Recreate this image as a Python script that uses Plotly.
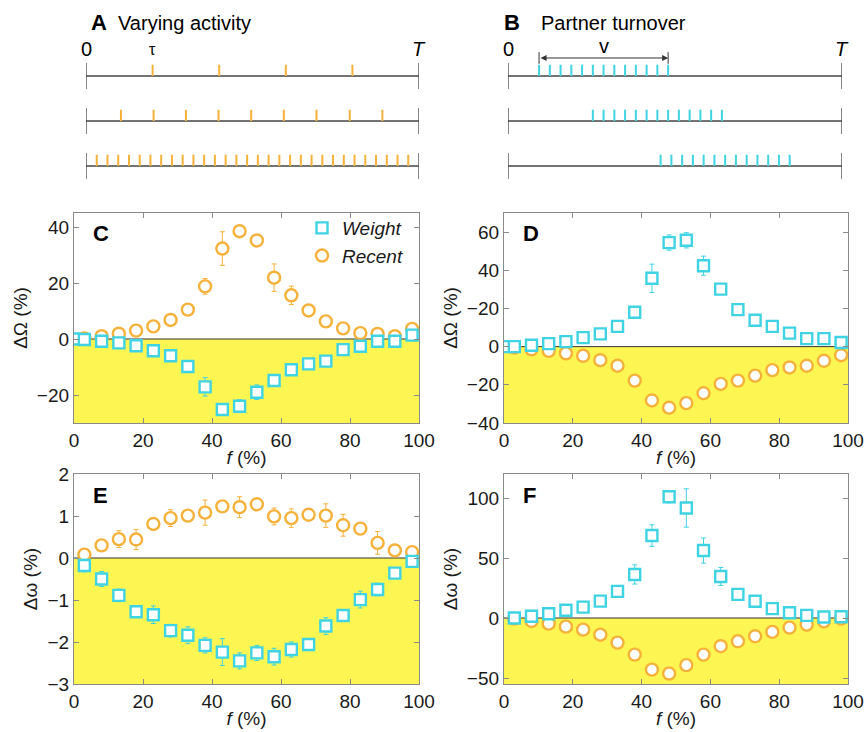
import plotly.graph_objects as go

W, H = 865, 732
FONT = "Liberation Sans, Arial, sans-serif"
CYAN = "#3fd3e3"
ORANGE = "#f6b13a"
YELLOW = "#fdf652"
FRAME = "#8a8a8a"

# ---------------- data ----------------
f_pts = [3, 8, 13, 18, 23, 28, 33, 38, 43, 48, 53, 58, 63, 68, 73, 78, 83, 88, 93, 98]
f_pts_w0 = [0] + f_pts

C_weight = [0, -0.2, -0.8, -1.4, -2.4, -4.2, -6.0, -9.8, -17.1, -25.2, -24.0, -19.0, -14.8, -11.0, -8.9, -7.9, -3.8, -2.6, -0.8, -0.8, 1.4]
C_weight_err = [0.3, 0.3, 0.4, 0.5, 0.5, 0.6, 0.7, 0.8, 3.3, 1.2, 2.3, 2.6, 1.2, 1.0, 0.8, 0.8, 0.6, 0.5, 0.5, 0.4, 0.4]
C_recent = [0.2, 1.0, 1.9, 3.0, 4.5, 6.8, 10.5, 18.8, 32.3, 38.5, 35.2, 21.9, 15.6, 10.2, 6.3, 3.8, 2.1, 1.8, 1.0, 3.6]
C_recent_err = [0.3, 0.4, 0.5, 0.5, 0.6, 0.8, 1.0, 2.8, 6.0, 1.2, 1.5, 4.9, 3.3, 1.0, 0.8, 0.6, 0.5, 0.5, 0.4, 0.5]

D_weight = [0, 0, 0.7, 1.6, 2.6, 4.7, 6.7, 10.6, 18.0, 35.8, 54.5, 55.7, 42.4, 30.1, 19.4, 13.8, 10.6, 7.1, 4.2, 4.2, 2.2]
D_weight_err = [0.3, 0.3, 0.4, 0.5, 0.6, 0.7, 0.9, 1.2, 3.0, 7.4, 4.0, 4.0, 5.0, 1.8, 1.2, 1.0, 0.9, 0.7, 0.6, 0.6, 0.5]
D_recent = [-0.5, -1.4, -2.2, -3.5, -4.8, -7.1, -10.0, -17.8, -28.2, -32.0, -29.6, -24.4, -19.5, -17.8, -15.2, -12.3, -10.9, -10.0, -7.4, -4.5]
D_recent_err = [0.3, 0.4, 0.5, 0.5, 0.6, 0.7, 0.8, 1.0, 1.2, 1.2, 1.2, 1.0, 0.9, 0.8, 0.8, 0.7, 0.7, 0.6, 0.6, 0.5]

E_weight = [-0.18, -0.5, -0.89, -1.28, -1.35, -1.73, -1.84, -2.08, -2.24, -2.45, -2.26, -2.35, -2.18, -2.06, -1.62, -1.37, -0.99, -0.75, -0.36, -0.08]
E_weight_err = [0.15, 0.18, 0.15, 0.1, 0.21, 0.15, 0.2, 0.18, 0.32, 0.19, 0.18, 0.2, 0.18, 0.12, 0.2, 0.12, 0.2, 0.15, 0.1, 0.1]
E_recent = [0.08, 0.3, 0.45, 0.44, 0.81, 0.95, 1.01, 1.08, 1.23, 1.21, 1.28, 0.99, 0.95, 1.03, 1.01, 0.78, 0.7, 0.36, 0.18, 0.14]
E_recent_err = [0.08, 0.1, 0.2, 0.24, 0.1, 0.2, 0.12, 0.3, 0.12, 0.25, 0.1, 0.2, 0.22, 0.12, 0.28, 0.26, 0.12, 0.27, 0.1, 0.1]

F_weight = [0, 1.4, 3.6, 6.4, 9.1, 14.1, 22.2, 36.3, 68.7, 101, 91.7, 56.2, 34.6, 19.7, 13.9, 7.8, 4.4, 2.2, 0.8, 1.1]
F_weight_err = [0.5, 0.8, 1, 1.2, 1.5, 2, 2.5, 8, 9, 5, 16, 10.5, 7.5, 2.5, 2, 1.5, 1, 0.8, 0.6, 0.5]
F_recent = [-0.5, -2.5, -4.7, -7.2, -9.7, -13.9, -20.5, -30.5, -43, -46.3, -39.3, -30.5, -23.5, -19.4, -15.2, -11.6, -8, -5.5, -2.8, -0.5]
F_recent_err = [0.4, 0.5, 0.6, 0.7, 0.8, 1.0, 1.2, 1.5, 1.8, 1.8, 1.8, 1.5, 1.2, 1.0, 0.9, 0.8, 0.7, 0.6, 0.5, 0.4]

x_ticks = [0, 20, 40, 60, 80, 100]
C_yticks = [-20, 0, 20, 40]
D_yticks = [-40, -20, 0, 20, 40, 60]
D_yticklabels = ["\u221240", "\u221220", "0", "\u221220", "40", "60"]
E_yticks = [-3, -2, -1, 0, 1, 2]
F_yticks = [-50, 0, 50, 100]

# event times (fraction of T) for the schematic timelines
A_rows = [
    [0.2, 0.4, 0.6, 0.8],
    [0.105, 0.203, 0.3, 0.398, 0.496, 0.594, 0.692, 0.792, 0.89],
    [i / 31 for i in range(1, 31)],
]
B_rows = [
    [0.093 + i * 0.0322 for i in range(13)],
    [0.254 + i * 0.0322 for i in range(13)],
    [0.457 + i * 0.0322 for i in range(13)],
]

# ---------------- layout helpers (page pixels -> paper) ----------------
def px(x):
    return x / W

def py(y):
    return 1 - y / H

fig = go.Figure()

panels = [
    ("C", "x", "y", (74, 419), (213, 423), [-30, 45], C_yticks, None, "\u0394\u03a9 (%)",
     f_pts_w0, C_weight, C_weight_err, f_pts, C_recent, C_recent_err),
    ("D", "x2", "y2", (504, 848), (213, 423), [-40, 70], D_yticks, D_yticklabels, "\u0394\u03a9 (%)",
     f_pts_w0, D_weight, D_weight_err, f_pts, D_recent, D_recent_err),
    ("E", "x3", "y3", (74, 419), (474, 684), [-3, 2], E_yticks, None, "\u0394\u03c9 (%)",
     f_pts, E_weight, E_weight_err, f_pts, E_recent, E_recent_err),
    ("F", "x4", "y4", (504, 848), (474, 684), [-55, 120], F_yticks, None, "\u0394\u03c9 (%)",
     f_pts, F_weight, F_weight_err, f_pts, F_recent, F_recent_err),
]

axis_common = dict(
    showline=True, linecolor=FRAME, linewidth=1.2, mirror="ticks",
    ticks="inside", ticklen=5, tickcolor=FRAME, tickwidth=1.2,
    showgrid=False, zeroline=False, automargin=False, ticklabeloverflow="allow",
    tickfont=dict(family=FONT, size=19, color="#1a1a1a"),
)

shapes = []
annotations = []

for (name, xa, ya, xd, yd, yr, yt, ytt, ytitle, wx, wy, we, rx, ry, re) in panels:
    xkey = "xaxis" + xa[1:]
    ykey = "yaxis" + ya[1:]
    fig.update_layout(**{
        xkey: dict(axis_common, domain=[px(xd[0]), px(xd[1])], range=[0, 100],
                   tickvals=x_ticks, anchor=ya,
                   title=dict(text="<i>f</i> (%)", font=dict(family=FONT, size=19, color="#1a1a1a"), standoff=0)),
        ykey: dict(axis_common, domain=[py(yd[1]), py(yd[0])], range=yr,
                   tickvals=yt, ticktext=ytt, anchor=xa,
                   title=dict(text=ytitle, font=dict(family=FONT, size=19, color="#1a1a1a"), standoff=4)),
    })
    shapes.append(dict(type="rect", xref=xa + " domain", yref=ya, x0=0, x1=1, y0=yr[0], y1=0,
                       fillcolor=YELLOW, line=dict(width=0), layer="below"))
    shapes.append(dict(type="line", xref=xa + " domain", yref=ya, x0=0, x1=1, y0=0, y1=0,
                       line=dict(color="#333333", width=1), layer="below"))
    show = name == "C"
    fig.add_trace(go.Scatter(
        x=rx, y=ry, mode="markers", xaxis=xa, yaxis=ya, name="<i>Recent</i>", showlegend=show,
        marker=dict(symbol="circle", size=12, color="white", line=dict(color=ORANGE, width=2.4)),
        error_y=dict(type="data", array=re, color=ORANGE, thickness=1, width=2.5),
    ))
    fig.add_trace(go.Scatter(
        x=wx, y=wy, mode="markers", xaxis=xa, yaxis=ya, name="<i>Weight</i>", showlegend=show,
        marker=dict(symbol="square", size=11, color="white", line=dict(color=CYAN, width=2.4)),
        error_y=dict(type="data", array=we, color=CYAN, thickness=1, width=2.5),
    ))
    annotations.append(dict(text="<b>%s</b>" % name, xref=xa + " domain", yref=ya + " domain",
                            x=0.05, y=0.9, xanchor="left", yanchor="middle", showarrow=False,
                            font=dict(family=FONT, size=22, color="black")))

# ---------------- schematic timelines (A, B) ----------------
TL_YR = [2.533, -1.022]   # rows 0..2, reversed so row 0 is on top
for xa, ya, xd in (("x5", "y5", (86, 419)), ("x6", "y6", (508, 842))):
    fig.update_layout(**{
        "xaxis" + xa[1:]: dict(domain=[px(xd[0]), px(xd[1])], range=[0, 1], visible=False,
                               anchor=ya, automargin=False),
        "yaxis" + ya[1:]: dict(domain=[py(190), py(30)], range=TL_YR, visible=False,
                               anchor=xa, automargin=False),
    })

TICK_H = 0.25
END_H = 0.29

def timeline(xa, ya, rows, color):
    for r, times in enumerate(rows):
        fig.add_trace(go.Scatter(x=[0, 1], y=[r, r], mode="lines", xaxis=xa, yaxis=ya,
                                 line=dict(color="#444444", width=1.3), showlegend=False, hoverinfo="skip"))
        fig.add_trace(go.Scatter(x=[0, 0, None, 1, 1], y=[r - END_H, r + END_H, None, r - END_H, r + END_H],
                                 mode="lines", xaxis=xa, yaxis=ya,
                                 line=dict(color="#444444", width=1.3), showlegend=False, hoverinfo="skip"))
        xs, ys = [], []
        for t in times:
            xs += [t, t, None]
            ys += [r, r - TICK_H, None]
        fig.add_trace(go.Scatter(x=xs, y=ys, mode="lines", xaxis=xa, yaxis=ya,
                                 line=dict(color=color, width=2), showlegend=False, hoverinfo="skip"))

timeline("x5", "y5", A_rows, ORANGE)
timeline("x6", "y6", B_rows, CYAN)

lab_font = dict(family=FONT, size=20, color="black")
for xa, ya in (("x5", "y5"), ("x6", "y6")):
    annotations.append(dict(text="0", xref=xa, yref=ya, x=0, y=-0.6, showarrow=False, font=lab_font))
    annotations.append(dict(text="<i>T</i>", xref=xa, yref=ya, x=1, y=-0.6, showarrow=False, font=lab_font))
annotations.append(dict(text="\u03c4", xref="x5", yref="y5", x=A_rows[0][0], y=-0.58, showarrow=False,
                        font=dict(family=FONT, size=16, color="black")))

b0, b1 = B_rows[0][0], B_rows[0][-1]
ARR_Y = -0.40
fig.add_trace(go.Scatter(x=[b0, b0, None, b1, b1], y=[ARR_Y - 0.13, ARR_Y + 0.13, None, ARR_Y - 0.13, ARR_Y + 0.13],
                         mode="lines", xaxis="x6", yaxis="y6", line=dict(color="#333333", width=1),
                         showlegend=False, hoverinfo="skip"))
annotations.append(dict(x=b1, y=ARR_Y, ax=b0, ay=ARR_Y, xref="x6", yref="y6", axref="x6", ayref="y6",
                        text="", showarrow=True, arrowhead=2, arrowside="end+start", arrowsize=1.2,
                        arrowwidth=1, arrowcolor="#333333"))
annotations.append(dict(text="v", xref="x6", yref="y6", x=(b0 + b1) / 2, y=-0.66, showarrow=False,
                        font=dict(family=FONT, size=20, color="black")))

annotations.append(dict(text="<b>A</b>", xref="paper", yref="paper", x=px(89), y=py(22), yanchor="middle",
                        showarrow=False, font=dict(family=FONT, size=22, color="black")))
annotations.append(dict(text="Varying activity", xref="paper", yref="paper", x=px(116), y=py(23),
                        xanchor="left", yanchor="middle", showarrow=False,
                        font=dict(family=FONT, size=20, color="black")))
annotations.append(dict(text="<b>B</b>", xref="paper", yref="paper", x=px(512), y=py(22), yanchor="middle",
                        showarrow=False, font=dict(family=FONT, size=22, color="black")))
annotations.append(dict(text="Partner turnover", xref="paper", yref="paper", x=px(539), y=py(23),
                        xanchor="left", yanchor="middle", showarrow=False,
                        font=dict(family=FONT, size=20, color="black")))

fig.update_layout(
    width=W, height=H, margin=dict(l=0, r=0, t=0, b=0, autoexpand=False),
    paper_bgcolor="white", plot_bgcolor="white",
    font=dict(family=FONT, size=18, color="#1a1a1a"),
    shapes=shapes, annotations=annotations,
    legend=dict(x=px(302), y=py(209), xanchor="left", yanchor="top", bgcolor="rgba(0,0,0,0)",
                traceorder="reversed", font=dict(family=FONT, size=19, color="#1a1a1a"),
                itemsizing="trace", tracegroupgap=0),
    showlegend=True,
)

fig.write_html("out.html")
